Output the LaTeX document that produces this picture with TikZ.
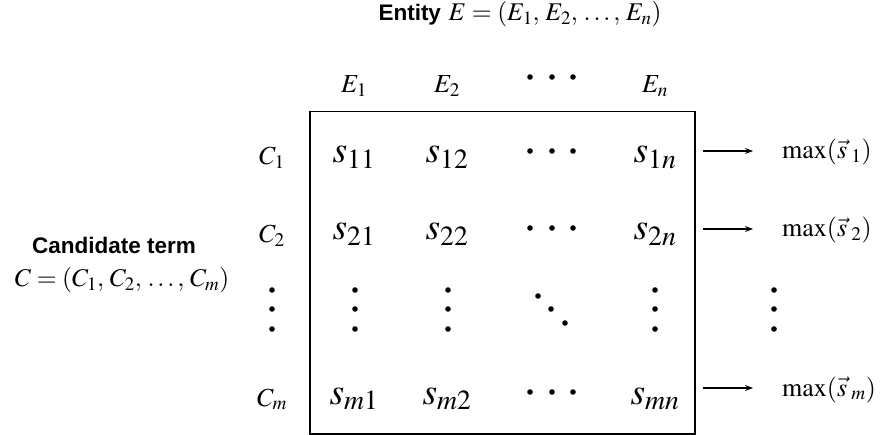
\documentclass[tikz,border=0pt]{standalone}
\usepackage{mathptmx}
\usepackage[no-math]{fontspec}
\newfontfamily\hv{Liberation Sans}
\usetikzlibrary{arrows.meta}
\begin{document}
\begin{tikzpicture}[x=1pt,y=-1pt,
  lab/.style={anchor=base,inner sep=0pt,font=\fontsize{26}{30}\selectfont},
  ttl/.style={anchor=base,inner sep=0pt,font=\fontsize{25.5}{30}\selectfont},
  bold/.style={anchor=base,inner sep=0pt,font=\fontsize{22.5}{27}\selectfont\hv\bfseries},
  ent/.style={anchor=base,inner sep=0pt,font=\fontsize{37.5}{44}\selectfont},
  mx/.style={anchor=base west,inner sep=0pt,font=\fontsize{26}{30}\selectfont},
  bullet/.style={circle,fill=black,inner sep=0pt,minimum size=5.6pt},
  arr/.style={line width=1.2pt,-{Stealth[length=8pt,width=6pt]}},
  mbox/.style={draw,line width=1.5pt,inner sep=0pt}]
\useasboundingbox (0,0) rectangle (885,435);
% title
\node[ttl] (title) at (520,21) {{\fontsize{22.5}{27}\selectfont\hv\bfseries Entity} $E=(E_1,\,E_2,\,\ldots,\,E_n)$};
% left label
\node[bold] (cand) at (114,254) {Candidate term};
\node[ttl] (cdef) at (122,287) {$C=(C_1,\,C_2,\,\ldots,\,C_m)$};
% box
\node[mbox,minimum width=385,minimum height=322,anchor=north west] (M) at (309,111) {};
% column headers
\node[lab] (E1) at (354,93) {$E_1$};
\node[lab] (E2) at (447,93) {$E_2$};
\node[lab] (En) at (655,93) {$E_n$};
\foreach \x [count=\i] in {530,552,573} \node[bullet] (hd\i) at (\x,77) {};
% row labels
\node[lab] (C1) at (272,165) {$C_1$};
\node[lab] (C2) at (272,243) {$C_2$};
\node[lab] (Cm) at (272,406) {$C_m$};
% entries
\node[ent] (s11) at (354,163) {$s_{11}$};
\node[ent] (s12) at (447,163) {$s_{12}$};
\node[ent] (s1n) at (655,163) {$s_{1n}$};
\node[ent] (s21) at (354,240) {$s_{21}$};
\node[ent] (s22) at (447,240) {$s_{22}$};
\node[ent] (s2n) at (655,240) {$s_{2n}$};
\node[ent] (sm1) at (354,404) {$s_{m1}$};
\node[ent] (sm2) at (447,404) {$s_{m2}$};
\node[ent] (smn) at (655,404) {$s_{mn}$};
% horizontal dots in rows
\foreach \x [count=\i] in {530,552,573} {
  \node[bullet] (ra\i) at (\x,151) {};
  \node[bullet] (rb\i) at (\x,228) {};
  \node[bullet] (rm\i) at (\x,392) {};
}
% vertical dots
\foreach \y [count=\i] in {290,309,329} {
  \node[bullet] (vl\i) at (272,\y) {};
  \node[bullet] (va\i) at (355,\y) {};
  \node[bullet] (vb\i) at (448,\y) {};
  \node[bullet] (vn\i) at (655,\y) {};
  \node[bullet] (vr\i) at (774,\y) {};
}
% diagonal dots
\node[bullet] (dg1) at (538,296) {};
\node[bullet] (dg2) at (551,309) {};
\node[bullet] (dg3) at (565,323) {};
% max outputs
\node[mx] (m1) at (782,159) {$\max(\vec{s}_{\;1})$};
\node[mx] (m2) at (782,237) {$\max(\vec{s}_{\;2})$};
\node[mx] (mm) at (782,396) {$\max(\vec{s}_{\;m})$};
% arrows
\coordinate (a1) at (703,151);
\coordinate (a2) at (703,229);
\coordinate (am) at (703,388);
\coordinate (b1) at (753,151);
\coordinate (b2) at (753,229);
\coordinate (bm) at (753,388);
\draw[arr] (a1) -- (b1);
\draw[arr] (a2) -- (b2);
\draw[arr] (am) -- (bm);
\end{tikzpicture}
\end{document}
